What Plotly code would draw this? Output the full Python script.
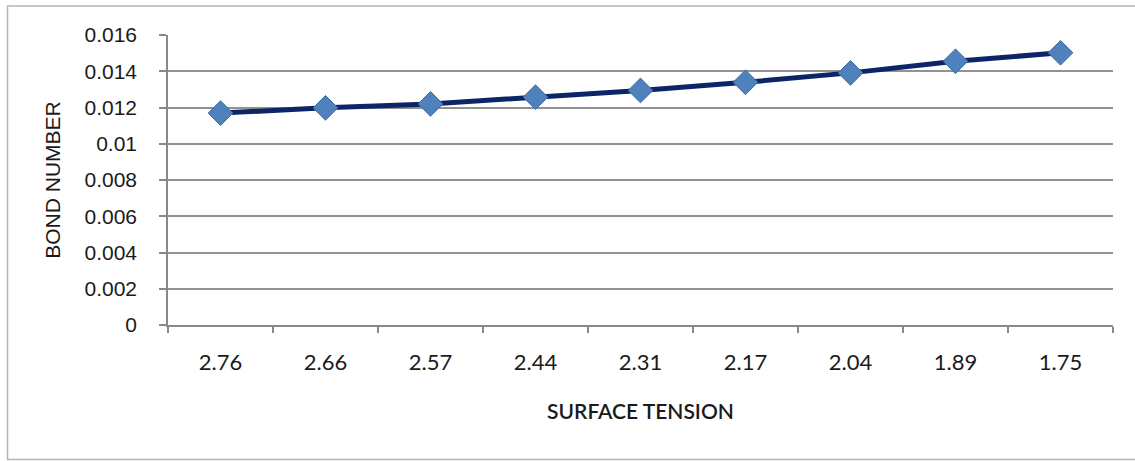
import plotly.graph_objects as go

categories = ["2.76", "2.66", "2.57", "2.44", "2.31", "2.17", "2.04", "1.89", "1.75"]
bond_number = [0.01169, 0.01198, 0.0122, 0.01257, 0.01294, 0.01339, 0.01391, 0.01455, 0.01502]
y_ticks = [0, 0.002, 0.004, 0.006, 0.008, 0.01, 0.012, 0.014, 0.016]
y_tick_text = ["0", "0.002", "0.004", "0.006", "0.008", "0.01", "0.012", "0.014", "0.016"]

W, H = 1135, 461
L, R, T, B = 168, 1113, 35, 325

fig = go.Figure()
fig.add_trace(go.Scatter(
    x=categories, y=bond_number, mode="lines+markers",
    line=dict(color="#0b2566", width=5),
    marker=dict(symbol="diamond", size=19, color="#4f81bd",
                line=dict(color="#3d6aa3", width=1)),
    showlegend=False,
))

pw, ph = R - L, B - T
def px(x):
    return (x - L) / pw
def py(y):
    return (B - y) / ph

fig.add_shape(type="rect", xref="paper", yref="paper",
              x0=px(7.5), x1=px(1140), y0=py(459.5), y1=py(6),
              line=dict(color="#b5b5b5", width=1.5), layer="below")

fig.update_layout(
    width=W, height=H,
    margin=dict(l=L, r=W - R, t=T, b=H - B),
    paper_bgcolor="white", plot_bgcolor="white",
    font=dict(family="Liberation Sans, Arial", size=20, color="#222"),
    xaxis=dict(
        type="category", range=[-0.5, 8.5], tickson="boundaries",
        ticks="outside", ticklen=6, tickcolor="#888", tickwidth=1.5,
        showline=True, linecolor="#888", linewidth=1.5,
        showgrid=False, ticklabelstandoff=17,
        tickfont=dict(family="Lato", size=22, color="#1a1a1a"),
        title=dict(text="SURFACE TENSION",
                   font=dict(family="Lato", size=21, color="#1a1a1a", weight=600),
                   standoff=30),
        fixedrange=True,
    ),
    yaxis=dict(
        range=[0, 0.016], tickvals=y_ticks, ticktext=y_tick_text,
        ticks="outside", ticklen=7, tickcolor="#888", tickwidth=1.5,
        showline=True, linecolor="#888", linewidth=1.5,
        showgrid=True, gridcolor="#929292", gridwidth=1.5,
        zeroline=False, ticklabelstandoff=18,
        tickfont=dict(family="Liberation Sans", size=21, color="#1a1a1a"),
        title=dict(text="BOND NUMBER",
                   font=dict(family="Liberation Sans", size=21, color="#1a1a1a"),
                   standoff=18),
        fixedrange=True,
    ),
)

fig.write_html("out.html", config={"displayModeBar": False},
               post_script="document.body.style.margin='0px';document.body.style.overflow='hidden';")
